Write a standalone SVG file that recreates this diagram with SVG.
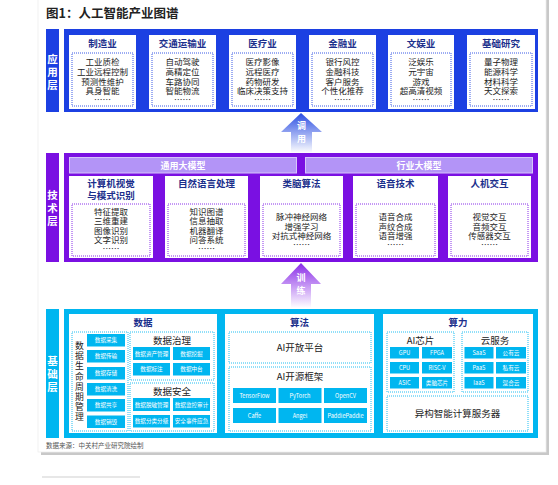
<svg xmlns="http://www.w3.org/2000/svg" width="558" height="485" viewBox="0 0 558 485">
<defs>
<style>
text{font-family:"Noto Sans CJK SC","Liberation Sans",sans-serif;}
.ttl{font-size:12.5px;font-weight:bold;fill:#222;}
.vlab{font-size:10.5px;font-weight:bold;fill:#fff;text-anchor:middle;dominant-baseline:central;}
.ct{font-size:9.5px;font-weight:bold;fill:#1b2f8c;text-anchor:middle;dominant-baseline:central;}
.it{font-size:8.5px;fill:#222;text-anchor:middle;dominant-baseline:central;}
.st{font-size:9.5px;fill:#222;text-anchor:middle;dominant-baseline:central;}
.vt{font-size:8.8px;fill:#222;text-anchor:middle;dominant-baseline:central;}
.bt{font-size:5.6px;fill:#fff;text-anchor:middle;dominant-baseline:central;}
.bar{font-size:9px;font-weight:bold;fill:#fff;text-anchor:middle;dominant-baseline:central;}
.arr{font-size:9px;font-weight:bold;fill:#fff;text-anchor:middle;dominant-baseline:central;}
.card{fill:#fff;}
.dA{fill:none;stroke:#3a5ae6;stroke-width:1;stroke-dasharray:1 1;}
.dT{fill:none;stroke:#8a30ea;stroke-width:1;stroke-dasharray:1 1;}
.dB{fill:none;stroke:#22bff2;stroke-width:1;stroke-dasharray:1 1;}
.btn{fill:#00b6f0;}
.lb{fill:#b394f7;stroke:#d6c4fb;stroke-width:1;}
</style>
<linearGradient id="gA" x1="0" y1="0" x2="0" y2="1">
<stop offset="0" stop-color="#2a4de2"/><stop offset="1" stop-color="#2a4de2" stop-opacity="0"/>
</linearGradient>
<linearGradient id="gT" x1="0" y1="0" x2="0" y2="1">
<stop offset="0" stop-color="#8a2ce8"/><stop offset="1" stop-color="#8a2ce8" stop-opacity="0"/>
</linearGradient>
</defs>
<rect width="558" height="485" fill="#fff"/>
<rect x="41" y="-3" width="508" height="458" fill="#c8c8c8"/>
<rect x="38" y="-5" width="508" height="457" fill="#fff" stroke="#eeeeee" stroke-width="0.8"/>
<line x1="42" y1="477" x2="140" y2="477" stroke="#cfcfcf" stroke-width="1"/>
<text class="ttl" x="46" y="18">图1：人工智能产业图谱</text>

<g id="app-layer">
<rect x="46" y="29" width="13" height="83" fill="#1c40e2"/>
<text class="vlab" x="52.5" y="58">应</text><text class="vlab" x="52.5" y="71">用</text><text class="vlab" x="52.5" y="84">层</text>
<rect x="64" y="29" width="474" height="83" fill="#1c40e2"/>
</g>
<g id="app-manufacturing">
<rect class="card" x="69" y="35" width="67" height="74"/><text class="ct" x="102.5" y="43">制造业</text>
<rect class="dA" x="72" y="53" width="61" height="53"/>
<text class="it" x="102.5" y="61">工业质检</text><text class="it" x="102.5" y="71">工业远程控制</text><text class="it" x="102.5" y="80.5">预测性维护</text><text class="it" x="102.5" y="90">具身智能</text><text class="it" x="102.5" y="99">……</text>
</g>
<g id="app-transport">
<rect class="card" x="149" y="35" width="67" height="74"/><text class="ct" x="182.5" y="43">交通运输业</text>
<rect class="dA" x="152" y="53" width="61" height="53"/>
<text class="it" x="182.5" y="61">自动驾驶</text><text class="it" x="182.5" y="71">高精定位</text><text class="it" x="182.5" y="80.5">车路协同</text><text class="it" x="182.5" y="90">智能物流</text><text class="it" x="182.5" y="99">……</text>
</g>
<g id="app-medical">
<rect class="card" x="229" y="35" width="67" height="74"/><text class="ct" x="262.5" y="43">医疗业</text>
<rect class="dA" x="232" y="53" width="61" height="53"/>
<text class="it" x="262.5" y="61">医疗影像</text><text class="it" x="262.5" y="71">远程医疗</text><text class="it" x="262.5" y="80.5">药物研发</text><text class="it" x="262.5" y="90">临床决策支持</text><text class="it" x="262.5" y="99">……</text>
</g>
<g id="app-finance">
<rect class="card" x="309" y="35" width="67" height="74"/><text class="ct" x="342.5" y="43">金融业</text>
<rect class="dA" x="312" y="53" width="61" height="53"/>
<text class="it" x="342.5" y="61">银行风控</text><text class="it" x="342.5" y="71">金融科技</text><text class="it" x="342.5" y="80.5">客户服务</text><text class="it" x="342.5" y="90">个性化推荐</text><text class="it" x="342.5" y="99">……</text>
</g>
<g id="app-entertainment">
<rect class="card" x="388" y="35" width="66" height="74"/><text class="ct" x="421" y="43">文娱业</text>
<rect class="dA" x="391" y="53" width="60" height="53"/>
<text class="it" x="421" y="61">泛娱乐</text><text class="it" x="421" y="71">元宇宙</text><text class="it" x="421" y="80.5">游戏</text><text class="it" x="421" y="90">超高清视频</text><text class="it" x="421" y="99">……</text>
</g>
<g id="app-research">
<rect class="card" x="467" y="35" width="68" height="74"/><text class="ct" x="501" y="43">基础研究</text>
<rect class="dA" x="470" y="53" width="62" height="53"/>
<text class="it" x="501" y="61">量子物理</text><text class="it" x="501" y="71">能源科学</text><text class="it" x="501" y="80.5">材料科学</text><text class="it" x="501" y="90">天文探索</text><text class="it" x="501" y="99">……</text>
</g>

<g id="tech-layer">
<rect x="46" y="153" width="13" height="109" fill="#7a10e2"/>
<text class="vlab" x="52.5" y="194">技</text><text class="vlab" x="52.5" y="207">术</text><text class="vlab" x="52.5" y="220">层</text>
<rect x="64" y="153" width="474" height="109" fill="#7a10e2"/>
<rect class="lb" x="69.5" y="157.5" width="227" height="15.5"/><text class="bar" x="183" y="165.5">通用大模型</text>
<rect class="lb" x="305.5" y="157.5" width="227" height="15.5"/><text class="bar" x="419" y="165.5">行业大模型</text>
</g>
<g id="tech-cv">
<rect class="card" x="69" y="176" width="84" height="82"/><text class="ct" x="111" y="183">计算机视觉</text><text class="ct" x="111" y="195">与模式识别</text>
<rect class="dT" x="72" y="204" width="78" height="52"/>
<text class="it" x="111" y="210.5">特征提取</text><text class="it" x="111" y="220">三维重建</text><text class="it" x="111" y="229.5">图像识别</text><text class="it" x="111" y="239">文字识别</text><text class="it" x="111" y="248">……</text>
</g>
<g id="tech-nlp">
<rect class="card" x="165" y="176" width="83" height="82"/><text class="ct" x="206.5" y="183">自然语言处理</text>
<rect class="dT" x="168" y="204" width="77" height="52"/>
<text class="it" x="206.5" y="210.5">知识图谱</text><text class="it" x="206.5" y="220">信息抽取</text><text class="it" x="206.5" y="229.5">机器翻译</text><text class="it" x="206.5" y="239">问答系统</text><text class="it" x="206.5" y="248">……</text>
</g>
<g id="tech-brain">
<rect class="card" x="260" y="176" width="83" height="82"/><text class="ct" x="301.5" y="183">类脑算法</text>
<rect class="dT" x="263" y="204" width="77" height="52"/>
<text class="it" x="301.5" y="216">脉冲神经网络</text><text class="it" x="301.5" y="225.5">增强学习</text><text class="it" x="301.5" y="235">对抗式神经网络</text><text class="it" x="301.5" y="244">……</text>
</g>
<g id="tech-speech">
<rect class="card" x="353" y="176" width="85" height="82"/><text class="ct" x="395.5" y="183">语音技术</text>
<rect class="dT" x="356" y="204" width="79" height="52"/>
<text class="it" x="395.5" y="216">语音合成</text><text class="it" x="395.5" y="225.5">声纹合成</text><text class="it" x="395.5" y="235">语音增强</text><text class="it" x="395.5" y="244">……</text>
</g>
<g id="tech-hci">
<rect class="card" x="448" y="176" width="83" height="82"/><text class="ct" x="489.5" y="183">人机交互</text>
<rect class="dT" x="451" y="204" width="77" height="52"/>
<text class="it" x="489.5" y="216">视觉交互</text><text class="it" x="489.5" y="225.5">音频交互</text><text class="it" x="489.5" y="235">传感器交互</text><text class="it" x="489.5" y="244">……</text>
</g>

<g id="base-layer">
<rect x="46" y="309" width="13" height="129" fill="#00b6f0"/>
<text class="vlab" x="52.5" y="360">基</text><text class="vlab" x="52.5" y="373">础</text><text class="vlab" x="52.5" y="386">层</text>
<rect x="64" y="309" width="474" height="129" fill="#00b6f0"/>
</g>
<g id="base-data">
<rect class="card" x="69" y="314" width="148" height="119"/><text class="ct" x="143" y="322">数据</text>
<rect class="dB" x="72" y="332" width="56" height="99"/>
<text class="vt" x="79.5" y="345">数</text><text class="vt" x="79.5" y="355">据</text><text class="vt" x="79.5" y="365.5">生</text><text class="vt" x="79.5" y="376">命</text><text class="vt" x="79.5" y="386">周</text><text class="vt" x="79.5" y="396">期</text><text class="vt" x="79.5" y="406">管</text><text class="vt" x="79.5" y="416">理</text>
<rect class="btn" x="87" y="334" width="38" height="12.5"/><text class="bt" x="106" y="340.3">数据采集</text>
<rect class="btn" x="87" y="350" width="38" height="12.5"/><text class="bt" x="106" y="356.3">数据传输</text>
<rect class="btn" x="87" y="367" width="38" height="12.5"/><text class="bt" x="106" y="373.3">数据存储</text>
<rect class="btn" x="87" y="383" width="38" height="12.5"/><text class="bt" x="106" y="389.3">数据清洗</text>
<rect class="btn" x="87" y="399" width="38" height="12.5"/><text class="bt" x="106" y="405.3">数据共享</text>
<rect class="btn" x="87" y="415.5" width="38" height="12.5"/><text class="bt" x="106" y="421.8">数据销毁</text>
<rect class="dB" x="130" y="332" width="84" height="48"/><text class="st" x="172" y="339.5">数据治理</text>
<rect class="btn" x="133" y="347" width="37" height="13"/><text class="bt" x="151.5" y="353.5">数据资产管理</text>
<rect class="btn" x="173" y="347" width="37" height="13"/><text class="bt" x="191.5" y="353.5">数据挖掘</text>
<rect class="btn" x="133" y="363" width="37" height="12.5"/><text class="bt" x="151.5" y="369.3">数据标注</text>
<rect class="btn" x="173" y="363" width="37" height="12.5"/><text class="bt" x="191.5" y="369.3">数据中台</text>
<rect class="dB" x="130" y="383" width="84" height="48"/><text class="st" x="172" y="390.5">数据安全</text>
<rect class="btn" x="133" y="398" width="37" height="13"/><text class="bt" x="151.5" y="404.5">数据脱敏管理</text>
<rect class="btn" x="173" y="398" width="37" height="13"/><text class="bt" x="191.5" y="404.5">数据监控审计</text>
<rect class="btn" x="133" y="415" width="37" height="12.5"/><text class="bt" x="151.5" y="421.3">数据分类分级</text>
<rect class="btn" x="173" y="415" width="37" height="12.5"/><text class="bt" x="191.5" y="421.3">安全事件应急</text>
</g>
<g id="base-algorithm">
<rect class="card" x="225" y="314" width="149" height="119"/><text class="ct" x="299.5" y="322">算法</text>
<rect class="dB" x="229" y="332" width="142" height="31"/><text class="st" x="300" y="347">AI开放平台</text>
<rect class="dB" x="229" y="367" width="142" height="64"/><text class="st" x="300" y="376">AI开源框架</text>
<rect class="btn" x="233" y="388" width="43" height="15"/><text class="bt" x="254.5" y="395.5">TensorFlow</text>
<rect class="btn" x="278.5" y="388" width="43" height="15"/><text class="bt" x="300" y="395.5">PyTorch</text>
<rect class="btn" x="324" y="388" width="43" height="15"/><text class="bt" x="345.5" y="395.5">OpenCV</text>
<rect class="btn" x="233" y="408" width="43" height="15"/><text class="bt" x="254.5" y="415.5">Caffe</text>
<rect class="btn" x="278.5" y="408" width="43" height="15"/><text class="bt" x="300" y="415.5">Angel</text>
<rect class="btn" x="324" y="408" width="43" height="15"/><text class="bt" x="345.5" y="415.5">PaddlePaddle</text>
</g>
<g id="base-compute">
<rect class="card" x="383" y="314" width="150" height="119"/><text class="ct" x="458" y="322">算力</text>
<rect class="dB" x="387" y="332" width="67" height="60"/><text class="st" x="420.5" y="339.5">AI芯片</text>
<rect class="btn" x="390" y="347" width="29" height="11.5"/><text class="bt" x="404.5" y="352.8">GPU</text>
<rect class="btn" x="422" y="347" width="30" height="11.5"/><text class="bt" x="437" y="352.8">FPGA</text>
<rect class="btn" x="390" y="362" width="29" height="11.5"/><text class="bt" x="404.5" y="367.8">CPU</text>
<rect class="btn" x="422" y="362" width="30" height="11.5"/><text class="bt" x="437" y="367.8">RISC-V</text>
<rect class="btn" x="390" y="377" width="29" height="11.5"/><text class="bt" x="404.5" y="382.8">ASIC</text>
<rect class="btn" x="422" y="377" width="30" height="11.5"/><text class="bt" x="437" y="382.8">类脑芯片</text>
<rect class="dB" x="462" y="332" width="66" height="60"/><text class="st" x="495" y="339.5">云服务</text>
<rect class="btn" x="464.5" y="347" width="29" height="11.5"/><text class="bt" x="479" y="352.8">SaaS</text>
<rect class="btn" x="496" y="347" width="30" height="11.5"/><text class="bt" x="511" y="352.8">公有云</text>
<rect class="btn" x="464.5" y="362" width="29" height="11.5"/><text class="bt" x="479" y="367.8">PaaS</text>
<rect class="btn" x="496" y="362" width="30" height="11.5"/><text class="bt" x="511" y="367.8">私有云</text>
<rect class="btn" x="464.5" y="377" width="29" height="11.5"/><text class="bt" x="479" y="382.8">IaaS</text>
<rect class="btn" x="496" y="377" width="30" height="11.5"/><text class="bt" x="511" y="382.8">混合云</text>
<rect class="dB" x="387" y="396" width="141" height="35"/><text class="st" x="457.5" y="413">异构智能计算服务器</text>
</g>

<g id="connectors">
<path d="M301,113 L322,132 L312,132 L312,153 L291,153 L291,132 L281,132 Z" fill="url(#gA)"/>
<text class="arr" x="301.5" y="125">调</text><text class="arr" x="301.5" y="138">用</text>
<path d="M301,263 L321,284 L311,284 L311,308 L291,308 L291,284 L281,284 Z" fill="url(#gT)"/>
<text class="arr" x="301" y="277">训</text><text class="arr" x="301" y="290">练</text>
</g>

<text x="46" y="448" font-size="6.5" fill="#555" style="font-family:'Noto Sans CJK SC','Liberation Sans',sans-serif">数据来源：中关村产业研究院绘制</text>
</svg>
